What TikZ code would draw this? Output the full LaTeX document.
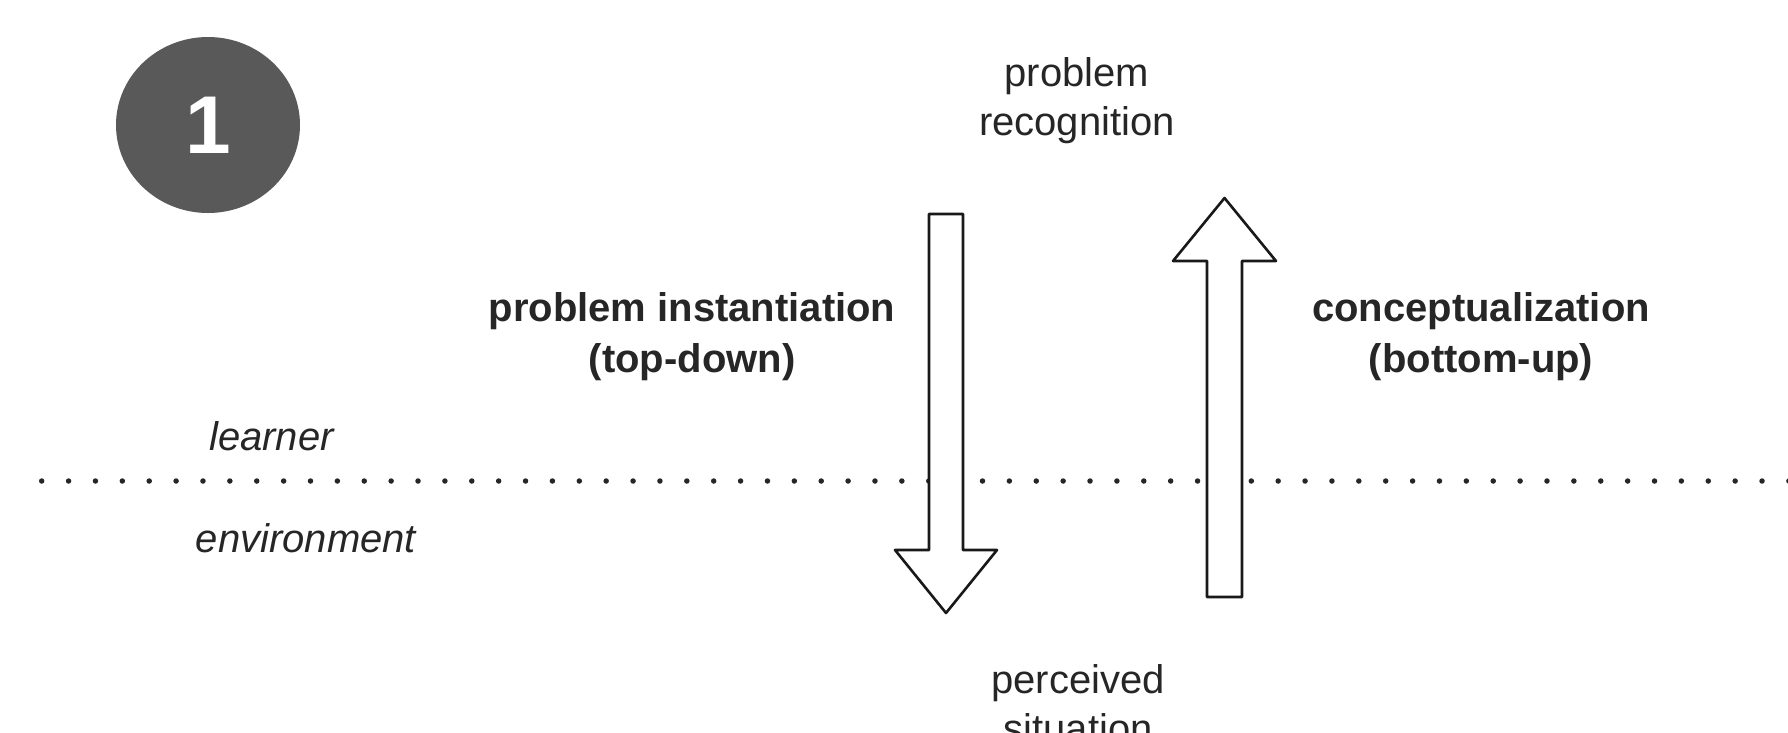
\documentclass[tikz,border=0pt]{standalone}
\usepackage{fontspec}
\setmainfont{Liberation Sans}
\usetikzlibrary{shapes.geometric}
\begin{document}
\begin{tikzpicture}[x=1pt,y=-1pt,
  lbl/.style={inner sep=0pt,align=center,text=black!85,font=\fontsize{40}{49}\selectfont},
  blbl/.style={lbl,font=\fontsize{40}{51}\selectfont\bfseries},
  ilbl/.style={lbl,font=\fontsize{40}{49}\selectfont\itshape},
  blockarrow/.style={draw=black!90,line width=2.6pt,fill=white,line join=round},
]
\useasboundingbox (0,0) rectangle (1788,732);
\clip (0,0) rectangle (1788,732);
% badge
\node[ellipse,fill=black!65,minimum width=184pt,minimum height=176pt,inner sep=0pt] (badge) at (208,125) {};
\node[text=white,font=\fontsize{82}{82}\selectfont\bfseries,inner sep=0pt] (num) at (badge.center) {1};
% divider
\draw[line width=5.5pt,line cap=round,dash pattern=on 0pt off 26.88pt,black!85] (41.7,481) -- (1800,481);
% arrows
\draw[blockarrow] (929,214) -- (963,214) -- (963,550) -- (997,550) -- (946,613) -- (895,550) -- (929,550) -- cycle;
\draw[blockarrow] (1207,597) -- (1242,597) -- (1242,261) -- (1276,261) -- (1224.5,198) -- (1173,261) -- (1207,261) -- cycle;
% labels
\node[lbl] (rec) at (1077,101) {problem\\recognition};
\node[lbl] (perc) at (1078,704) {perceived\\situation};
\node[blbl] (inst) at (692,337) {problem instantiation\\(top-down)};
\node[blbl] (conc) at (1481,337) {conceptualization\\(bottom-up)};
\node[ilbl] (learner) at (271.5,436) {learner};
\node[ilbl] (env) at (306,538) {environment};
\end{tikzpicture}
\end{document}
